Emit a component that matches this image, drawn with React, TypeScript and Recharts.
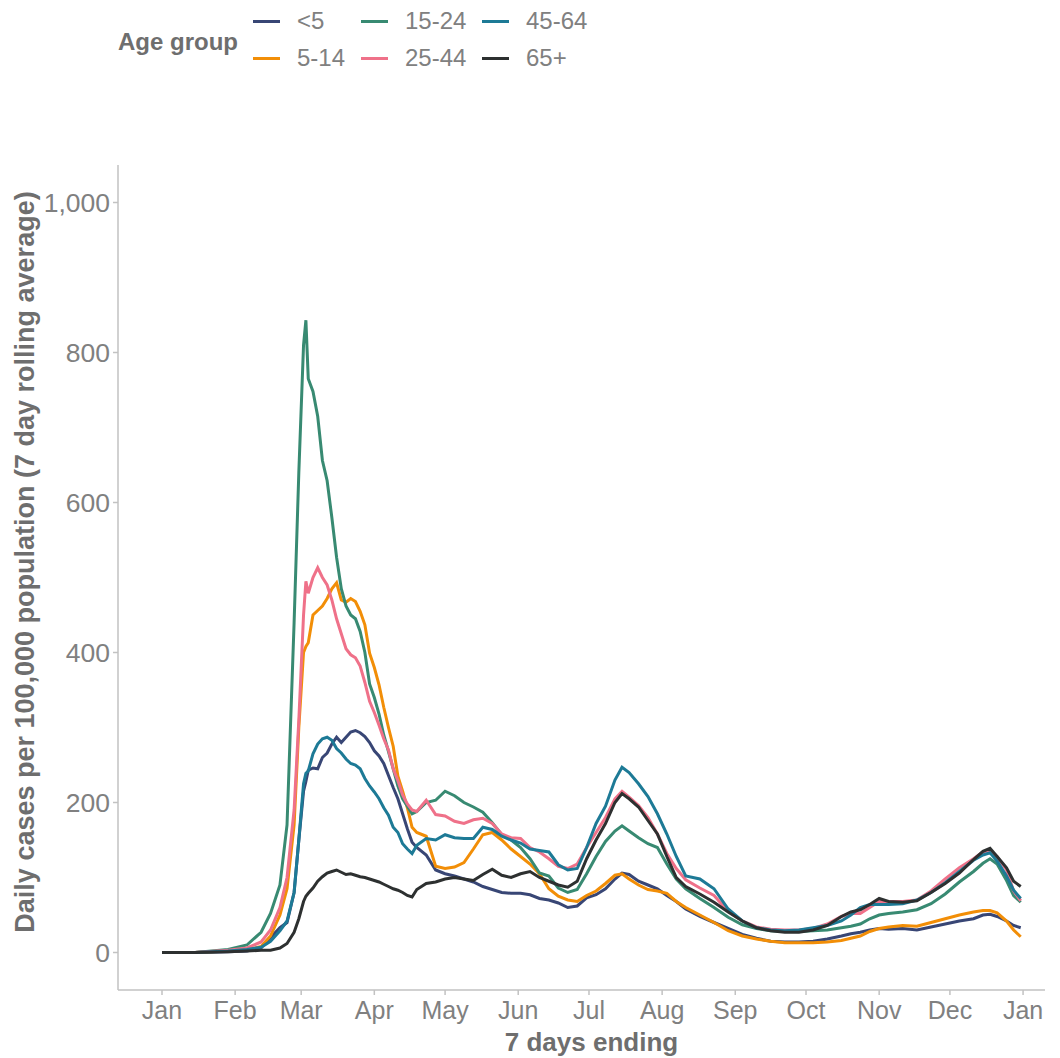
import { LineChart, Line, XAxis, YAxis } from "recharts";

const days = [
  0, 14, 28, 36, 42, 46, 50, 53, 56, 58,
  60, 61, 62, 64, 66, 68, 70, 72, 74, 76,
  78, 80, 82, 84, 86, 88, 90, 92, 94, 96,
  98, 100, 102, 104, 106, 108, 112, 116, 120, 124,
  128, 132, 136, 140, 144, 148, 152, 156, 160, 164,
  168, 172, 176, 180, 184, 188, 192, 195, 198, 202,
  206, 210, 214, 218, 222, 228, 234, 240, 246, 252,
  258, 264, 270, 276, 282, 288, 292, 296, 300, 304,
  308, 314, 320, 326, 332, 338, 344, 348, 351, 354,
  358, 361, 364,
];

const monthTicks = [0, 31, 59, 90, 120, 151, 181, 212, 243, 273, 304, 334, 365];
const monthLabels = ["Jan", "Feb", "Mar", "Apr", "May", "Jun", "Jul", "Aug", "Sep", "Oct", "Nov", "Dec", "Jan"];
const yTicks = [0, 200, 400, 600, 800, 1000];

const under5 = [
  0, 0, 1, 2, 6, 20, 33, 40, 80, 150,
  215, 228, 243, 246, 245, 260, 266, 278, 287, 280,
  287, 294, 296, 293, 288, 280, 269, 262, 252, 236,
  220, 205, 185, 165, 147, 140, 130, 110, 105, 102,
  98, 94, 88, 84, 80, 79, 79, 77, 72, 70,
  66, 60, 62, 73, 77, 85, 98, 106, 104, 95,
  90, 85, 76, 68, 58, 48, 40, 32, 24, 19,
  15, 14, 14, 15, 18, 22, 25, 27, 30, 32,
  31, 32, 30, 34, 38, 42, 45, 50, 51, 48,
  42, 36, 33,
];

const age5to14 = [
  0, 0, 2, 3, 8, 22, 50, 85, 170, 300,
  400, 408, 413, 450, 456, 462, 472, 485, 493, 470,
  467, 472, 468, 455, 437, 399, 380, 357, 327, 300,
  275, 235, 215, 193, 167, 160, 155, 115, 112, 114,
  120, 138, 157, 160, 150, 138, 128, 118, 105, 85,
  75, 70, 68, 76, 82, 92, 103, 105, 98, 90,
  84, 82, 79, 68, 60, 50, 40, 29, 22, 18,
  15, 13, 13, 13, 14, 16, 19, 22, 28, 32,
  34, 36, 35, 40, 45, 50, 54, 56, 56, 53,
  42, 30, 21,
];

const age15to24 = [
  0, 0, 4, 10, 27, 52, 90, 170, 440, 640,
  810, 843, 765, 748, 715, 656, 629, 580, 527, 485,
  462, 450, 445, 428, 400, 358, 340, 318, 290, 268,
  245, 222, 205, 195, 185, 188, 200, 203, 215, 209,
  200, 194, 187, 173, 157, 150, 140, 125, 106, 102,
  86, 80, 84, 105, 128, 148, 162, 169, 162, 153,
  145, 140, 118, 98, 85, 72, 60, 47, 37, 32,
  29, 28, 28, 29, 30, 33, 35, 38, 45, 50,
  52, 54, 57, 65, 78, 94, 108, 119, 125, 118,
  96, 76, 67,
];

const age25to44 = [
  0, 0, 3, 6, 14, 30, 60, 100, 190, 310,
  450, 495, 479, 500, 513, 500, 490, 470, 445, 425,
  405, 397, 393, 382, 360, 335, 320, 303, 285, 270,
  245, 229, 210, 198, 190, 188, 203, 184, 182, 175,
  172, 177, 179, 172, 158, 153, 152, 140, 134, 125,
  115, 112, 118, 140, 160, 180, 205, 215, 207, 196,
  180, 158, 132, 112, 97, 86, 76, 55, 42, 34,
  31, 30, 30, 32, 38, 48, 52, 52, 60, 68,
  68, 68, 70, 82, 98, 113, 125, 134, 136, 128,
  110, 82, 69,
];

const age45to64 = [
  0, 0, 2, 4, 7, 15, 29, 42, 80, 150,
  225, 239, 242, 265, 278, 285, 287, 283, 272, 266,
  258, 252, 250, 245, 232, 222, 214, 205, 193, 183,
  167, 160, 145, 138, 132, 143, 152, 150, 157, 153,
  152, 152, 167, 164, 155, 150, 146, 138, 136, 134,
  117, 110, 112, 140, 172, 195, 230, 247, 240, 225,
  208, 185, 158, 128, 102, 98, 85, 58, 42, 33,
  30, 29, 30, 33, 36, 42, 50, 60, 64, 64,
  64, 65, 70, 80, 93, 108, 123, 130, 133, 122,
  102, 83, 72,
];

const age65plus = [
  0, 0, 1, 2, 3, 3, 6, 12, 27, 45,
  68, 75, 79, 86, 95, 101, 106, 108, 110, 107,
  104, 105, 103, 101, 100, 98, 96, 94, 91, 88,
  85, 83, 80, 76, 74, 84, 92, 94, 98, 100,
  98, 96, 104, 111, 103, 100, 105, 108, 100, 95,
  90, 87, 95, 125, 150, 172, 200, 212, 205, 194,
  176, 158, 128, 100, 88, 78, 67, 54, 42, 33,
  29, 27, 27, 30, 36, 48, 54, 57, 64, 72,
  68, 67, 69, 80, 92, 106, 124, 135, 139, 128,
  113, 95, 88,
];

const series = [
  { key: "u5", label: "<5", color: "#384675", values: under5 },
  { key: "a5", label: "5-14", color: "#f28e07", values: age5to14 },
  { key: "a15", label: "15-24", color: "#388a72", values: age15to24 },
  { key: "a25", label: "25-44", color: "#ef7189", values: age25to44 },
  { key: "a45", label: "45-64", color: "#1d7a96", values: age45to64 },
  { key: "a65", label: "65+", color: "#2d3030", values: age65plus },
];

const data = days.map((d, i) => {
  const row: Record<string, number> = { day: d };
  series.forEach((s) => {
    row[s.key] = s.values[i];
  });
  return row;
});

const FONT = "'Liberation Sans', Arial, Helvetica, sans-serif";
const TITLE_COLOR = "#6e6e6e";
const TICK_COLOR = "#808080";
const AXIS_COLOR = "#c2c2c2";

const legendCols = [253, 361, 482];
const legendRows = [21, 58];

function ChartLegend() {
  return (
    <div style={{ position: "absolute", left: 0, top: 0, width: 700, height: 90 }}>
      <div
        style={{
          position: "absolute",
          left: 118,
          top: 42,
          transform: "translateY(-50%)",
          fontWeight: "bold",
          fontSize: 24,
          color: TITLE_COLOR,
          whiteSpace: "nowrap",
        }}
      >
        Age group
      </div>
      {series.map((s, i) => {
        const x = legendCols[Math.floor(i / 2)];
        const y = legendRows[i % 2];
        return (
          <div key={s.key}>
            <div
              style={{
                position: "absolute",
                left: x,
                top: y - 1.5,
                width: 27,
                height: 3,
                background: s.color,
              }}
            />
            <div
              style={{
                position: "absolute",
                left: x + 44,
                top: y,
                transform: "translateY(-50%)",
                fontSize: 24,
                color: TICK_COLOR,
                whiteSpace: "nowrap",
                lineHeight: 1,
              }}
            >
              {s.label}
            </div>
          </div>
        );
      })}
    </div>
  );
}

function XTitle(props: any) {
  const vb = props.viewBox || { x: 118, width: 927 };
  return (
    <text
      x={vb.x + vb.width / 2 + 10}
      y={1051}
      textAnchor="middle"
      fontSize={26}
      fontWeight="bold"
      fill={TITLE_COLOR}
      fontFamily={FONT}
    >
      7 days ending
    </text>
  );
}

function YTitle() {
  return (
    <text
      x={0}
      y={0}
      transform="translate(34, 562) rotate(-90)"
      textAnchor="middle"
      fontSize={27}
      fontWeight="bold"
      fill={TITLE_COLOR}
      fontFamily={FONT}
    >
      Daily cases per 100,000 population (7 day rolling average)
    </text>
  );
}

export default function App() {
  return (
    <div
      style={{
        position: "absolute",
        left: 0,
        top: 0,
        width: 1060,
        height: 1058,
        background: "#ffffff",
        fontFamily: FONT,
      }}
    >
      <ChartLegend />
      <LineChart
        width={1060}
        height={1058}
        data={data}
        margin={{ top: 165, right: 15, bottom: 0, left: 0 }}
      >
        <XAxis
          dataKey="day"
          type="number"
          domain={[-18.65, 374.3]}
          allowDataOverflow
          ticks={monthTicks}
          interval={0}
          tickFormatter={(v) => monthLabels[monthTicks.indexOf(v)]}
          height={68}
          stroke={AXIS_COLOR}
          strokeWidth={1.5}
          tickSize={5}
          tickMargin={6}
          tick={{ fill: TICK_COLOR, fontSize: 25, fontFamily: FONT }}
          label={<XTitle />}
        />
        <YAxis
          type="number"
          domain={[-50, 1050]}
          allowDataOverflow
          ticks={yTicks}
          interval={0}
          tickFormatter={(v) => v.toLocaleString("en-US")}
          width={118}
          stroke={AXIS_COLOR}
          strokeWidth={1.5}
          tickSize={5}
          tickMargin={3}
          tick={{ fill: TICK_COLOR, fontSize: 26.5, fontFamily: FONT }}
          label={<YTitle />}
        />
        {series.map((s) => (
          <Line
            key={s.key}
            dataKey={s.key}
            name={s.label}
            stroke={s.color}
            strokeWidth={3}
            dot={false}
            activeDot={false}
            type="linear"
            isAnimationActive={false}
          />
        ))}
      </LineChart>
    </div>
  );
}
